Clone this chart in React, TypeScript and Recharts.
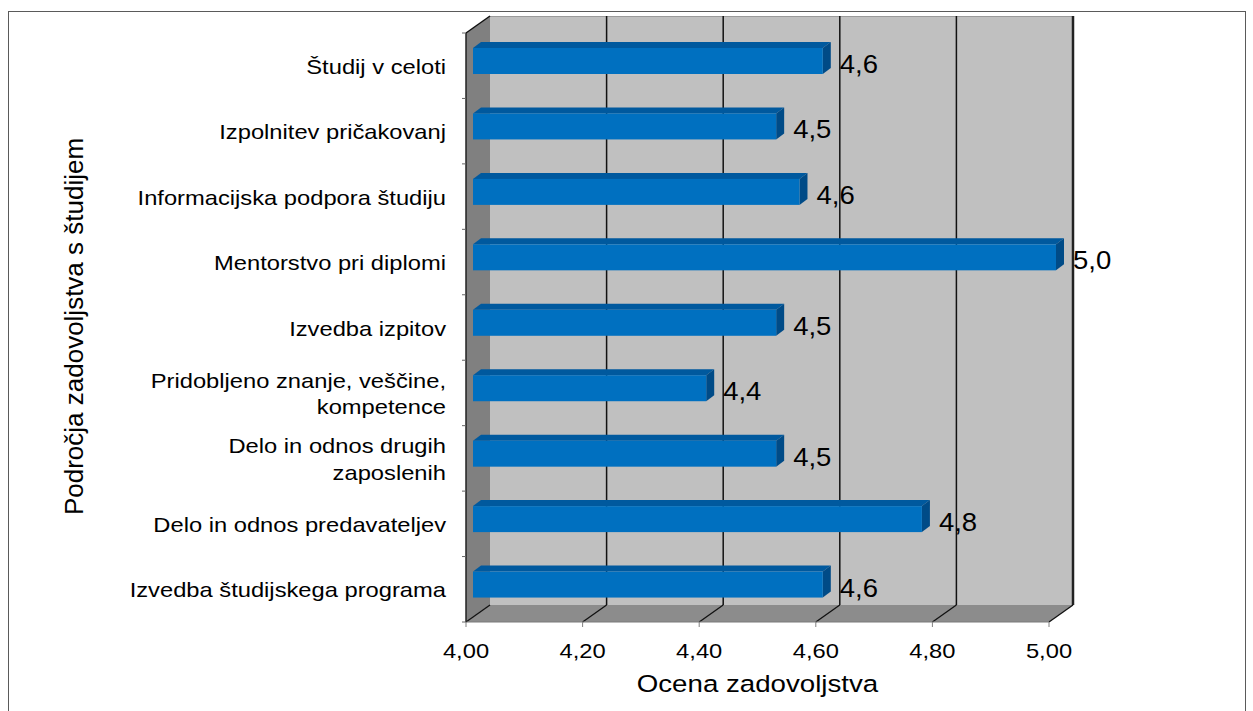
import React from 'react';
import { BarChart, Bar, XAxis, YAxis, ReferenceArea, ReferenceLine, LabelList } from 'recharts';

// categories top to bottom, line breaks as in the original chart
const categories = [
    'Študij v celoti',
    'Izpolnitev pričakovanj',
    'Informacijska podpora študiju',
    'Mentorstvo pri diplomi',
    'Izvedba izpitov',
    'Pridobljeno znanje, veščine,\nkompetence',
    'Delo in odnos drugih\nzaposlenih',
    'Delo in odnos predavateljev',
    'Izvedba študijskega programa',
];
const scores = [4.6, 4.52, 4.56, 5.0, 4.52, 4.4, 4.52, 4.77, 4.6];
const xTicks = [4, 4.2, 4.4, 4.6, 4.8, 5];

const data = categories.map((name, i) => ({ name, score: scores[i] }));

const FONT = '"Liberation Sans", Arial, sans-serif';
// depth of the 3d box (walls) and of the bars
const DX = 24;
const DY = 17;
const BAR_OFF_X = 7;
const BAR_OFF_Y = 5;
const BAR_DX = 8;
const BAR_DY = 6;

const comma = (v: number, d: number) => v.toFixed(d).replace('.', ',');

const Walls = (p: any) => {
    const { x, y, width: w, height: h } = p;
    const b = y + h;
    return (
        <g>
            <rect x={x + DX} y={y - DY} width={w} height={h} fill="#C0C0C0" />
            <line x1={x + DX} y1={y - DY + 0.5} x2={x + DX + w} y2={y - DY + 0.5} stroke="#9a9a9a" />
            <polygon points={`${x},${y} ${x + DX},${y - DY} ${x + DX},${b - DY} ${x},${b}`} fill="#808080" />
            <polygon points={`${x},${b} ${x + DX},${b - DY} ${x + w + DX},${b - DY} ${x + w},${b}`} fill="#8C8C8C" />
            <line x1={x} y1={y} x2={x + DX} y2={y - DY} stroke="#111" strokeWidth={1.5} />
        </g>
    );
};

const GridLine = (p: any) => {
    const { x1, y1, y2 } = p;
    const top = Math.min(y1, y2);
    const bot = Math.max(y1, y2);
    const first = Math.abs(x1 - p.plotLeft) < 1;
    const last = p.isLast;
    return (
        <g>
            {!first && (
                <line x1={x1 + DX} y1={top - DY} x2={x1 + DX} y2={bot - DY} stroke={last ? '#222' : '#111'} strokeWidth={last ? 2.5 : 1.5} />
            )}
            <line x1={x1} y1={bot} x2={x1 + DX} y2={bot - DY} stroke="#111" strokeWidth={1.3} />
        </g>
    );
};

const Bar3D = (p: any) => {
    const { x, y, width: w, height: h } = p;
    if (!w || w <= 0) return <g />;
    const fx = x + BAR_OFF_X;
    const fy = y - BAR_OFF_Y;
    return (
        <g>
            <polygon
                points={`${fx},${fy} ${fx + BAR_DX},${fy - BAR_DY} ${fx + w + BAR_DX},${fy - BAR_DY} ${fx + w},${fy}`}
                fill="#00599E"
            />
            <polygon
                points={`${fx + w},${fy} ${fx + w + BAR_DX},${fy - BAR_DY} ${fx + w + BAR_DX},${fy - BAR_DY + h} ${fx + w},${fy + h}`}
                fill="#004B87"
            />
            <rect x={fx} y={fy} width={w} height={h} fill="#0070C0" />
        </g>
    );
};

const ValueLabel = (p: any) => {
    const { x, y, width: w, height: h, value } = p;
    const tx = x + w + 24;
    const ty = y + h / 2 + 7;
    return (
        <text transform={`translate(${tx},${ty}) scale(1.1,1)`} fontFamily={FONT} fontSize={25} fill="#000">
            {comma(Number(value), 1)}
        </text>
    );
};

const CategoryTick = (p: any) => {
    const { x, y, payload, index } = p;
    const lines = String(payload.value).split('\n');
    const half = payload.offset || 32.7;
    const lineH = 26.7;
    const start = y - ((lines.length - 1) * lineH) / 2 + 8;
    return (
        <g>
            <line x1={x + 16} y1={y - half} x2={x + 20} y2={y - half} stroke="#666" />
            {index === categories.length - 1 && (
                <line x1={x + 16} y1={y + half} x2={x + 20} y2={y + half} stroke="#666" />
            )}
            {lines.map((t, i) => (
                <text
                    key={i}
                    transform={`translate(${x},${start + i * lineH}) scale(1.13,1)`}
                    textAnchor="end"
                    fontFamily={FONT}
                    fontSize={21}
                    fill="#000"
                >
                    {t}
                </text>
            ))}
        </g>
    );
};

const ValueTick = (p: any) => {
    const { x, y, payload } = p;
    return (
        <text transform={`translate(${x},${y + 31}) scale(1.13,1)`} textAnchor="middle" fontFamily={FONT} fontSize={21} fill="#000">
            {comma(payload.value, 2)}
        </text>
    );
};

const XTitle = (p: any) => {
    const vb = p.viewBox || { x: 466, y: 622, width: 583 };
    return (
        <text
            transform={`translate(${vb.x + vb.width / 2},${vb.y + 70}) scale(1.13,1)`}
            textAnchor="middle"
            fontFamily={FONT}
            fontSize={24.5}
            fill="#000"
        >
            Ocena zadovoljstva
        </text>
    );
};

const YTitle = (p: any) => {
    const vb = p.viewBox || { x: 0, y: 33, height: 589 };
    const cy = vb.y + vb.height / 2 - 1;
    return (
        <text transform={`translate(83,${cy}) rotate(-90)`} textAnchor="middle" fontFamily={FONT} fontSize={26} fill="#000">
            Področja zadovoljstva s študijem
        </text>
    );
};

export default function App() {
    const plotLeft = 466;
    return (
        <div style={{ position: 'absolute', left: 0, top: 0, width: 1253, height: 711, overflow: 'hidden', background: '#fff' }}>
            <div
                style={{
                    position: 'absolute',
                    left: 8,
                    top: 11,
                    width: 1236,
                    height: 740,
                    border: '1px solid #5a5a5a',
                }}
            />
            <div style={{ position: 'absolute', left: 0, top: 0 }}>
                <BarChart
                    width={1253}
                    height={711}
                    data={data}
                    layout="vertical"
                    margin={{ top: 33, right: 204, bottom: 9, left: 0 }}
                >
                    <ReferenceArea x1={4} x2={5} shape={<Walls />} ifOverflow="visible" zIndex={-200} />
                    {xTicks.map((v, i) => (
                        <ReferenceLine
                            key={v}
                            x={v}
                            ifOverflow="visible"
                            zIndex={-150}
                            shape={(sp: any) => <GridLine {...sp} plotLeft={plotLeft} isLast={i === xTicks.length - 1} />}
                        />
                    ))}
                    <XAxis
                        type="number"
                        domain={[4, 5]}
                        ticks={xTicks}
                        interval={0}
                        height={80}
                        tickSize={5}
                        tickMargin={0}
                        axisLine={{ stroke: '#7a7a7a' }}
                        tickLine={{ stroke: '#808080' }}
                        tick={<ValueTick />}
                        label={{ content: <XTitle /> }}
                    />
                    <YAxis
                        type="category"
                        dataKey="name"
                        width={466}
                        tickLine={false}
                        tickSize={0}
                        tickMargin={20}
                        interval={0}
                        axisLine={{ stroke: '#222', strokeWidth: 1.5 }}
                        tick={<CategoryTick />}
                        label={{ content: <YTitle /> }}
                    />
                    <Bar dataKey="score" barSize={26} shape={<Bar3D />} isAnimationActive={false}>
                        <LabelList dataKey="score" content={<ValueLabel />} />
                    </Bar>
                </BarChart>
            </div>
        </div>
    );
}
